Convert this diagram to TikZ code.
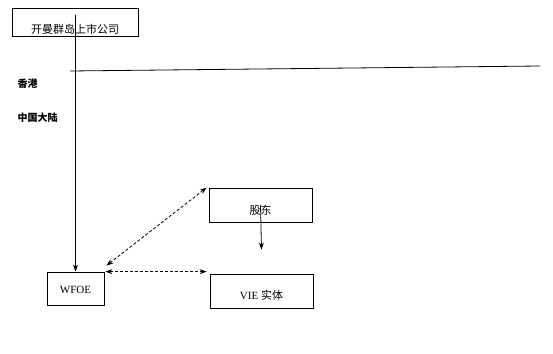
\documentclass[tikz,border=0pt]{standalone}
\usepackage{fontspec}
\setmainfont{Liberation Serif}
\newfontfamily\cjk{Noto Sans CJK SC}
\usepackage{tikz}
\usetikzlibrary{arrows.meta}

\begin{document}
\begin{tikzpicture}[
    x=1pt, y=-1pt,
    entity/.style={rectangle, draw, line width=0.8pt, inner sep=0pt, font=\fontsize{11}{13}\selectfont},
    region/.style={anchor=west, font=\cjk\bfseries\fontsize{10}{12}\selectfont},
    arrow/.style={-{Stealth[length=7pt, width=5pt]}, line width=0.8pt},
    link/.style={{Stealth[length=7pt, width=5pt]}-{Stealth[length=7pt, width=5pt]}, line width=0.8pt, densely dashed}
  ]
    \useasboundingbox (0,0) rectangle (553,353);

    % Entities
    \node[entity, minimum width=126pt, minimum height=28pt, text height=24pt] (listco) at (75,22) {\cjk 开曼群岛上市公司};
    \node[entity, minimum width=103pt, minimum height=34pt, text height=20pt] (gudong) at (260.5,205) {\cjk 股东};
    \node[entity, minimum width=103pt, minimum height=34pt, text height=18pt] (vie) at (261.5,291) {VIE \cjk 实体};
    \node[entity, minimum width=57pt, minimum height=33pt, text height=11pt] (wfoe) at (75.5,288.5) {WFOE};

    % Border between Hong Kong and mainland China
    \draw[line width=0.8pt] (70,71) -- (540,66);
    \node[region] (hk) at (14,84) {香港};
    \node[region] (prc) at (14,118) {中国大陆};

    % Control and contract links
    \draw[arrow] ([yshift=-7pt]listco.north -| wfoe.north) -- (wfoe.north);
    \draw[arrow] (gudong.center) -- ([yshift=24pt]vie.north);
    \draw[link] ([shift={(2pt,6pt)}]wfoe.north east) -- ([xshift=-2pt]gudong.north west);
    \draw[link] ([xshift=1pt]wfoe.north east) -- ([xshift=-3pt]wfoe.north east -| vie.west);

\end{tikzpicture}
\end{document}
